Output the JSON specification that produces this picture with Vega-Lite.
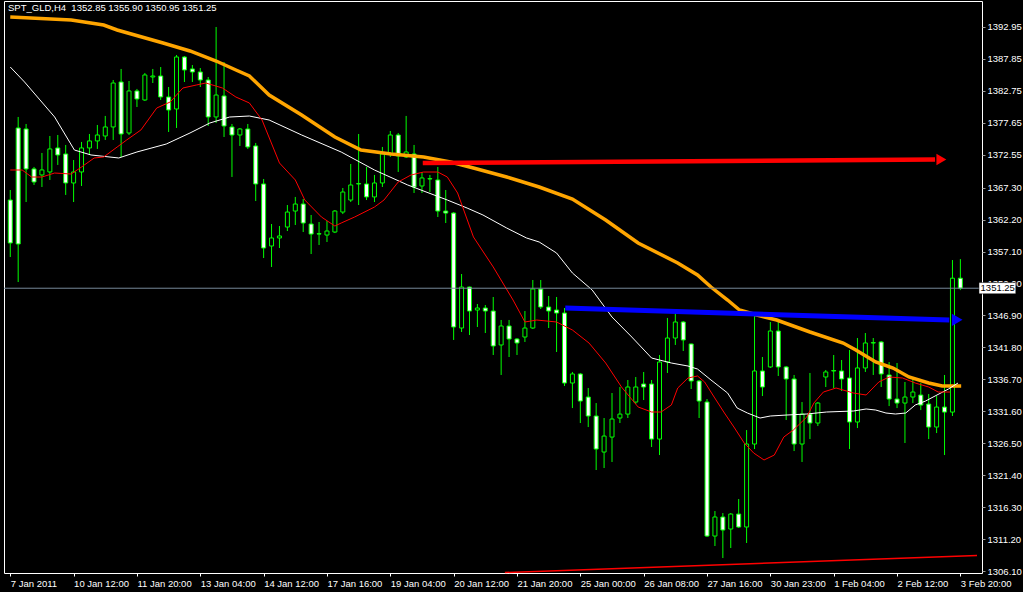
{
  "$schema": "https://vega.github.io/schema/vega-lite/v6.json",
  "width": 978,
  "height": 572,
  "autosize": "none",
  "padding": {"left": 4, "top": 1, "right": 41, "bottom": 19},
  "background": "#000000",
  "config": {
    "view": {"stroke": "#ffffff", "strokeWidth": 1, "fill": "#000000"},
    "font": "Liberation Sans"
  },
  "title": {
    "text": "SPT_GLD,H4\u00a0\u00a01352.85 1355.90 1350.95 1351.25",
    "color": "#ffffff",
    "font": "Liberation Sans",
    "fontSize": 9.5,
    "fontWeight": "normal",
    "anchor": "start",
    "frame": "group",
    "baseline": "top",
    "offset": 0,
    "dx": 4,
    "dy": 11
  },
  "datasets": {
    "candles": [
      {"k":0,"o":1365.33,"h":1366.93,"l":1356.23,"c":1358.47},
      {"k":1,"o":1376.83,"h":1378.59,"l":1352.24,"c":1358.31},
      {"k":2,"o":1376.67,"h":1377.47,"l":1365.01,"c":1370.29},
      {"k":3,"o":1370.29,"h":1370.61,"l":1367.73,"c":1368.21},
      {"k":4,"o":1369.33,"h":1372.84,"l":1367.41,"c":1370.13},
      {"k":5,"o":1369.81,"h":1375.55,"l":1368.53,"c":1373.48},
      {"k":6,"o":1373.64,"h":1375.71,"l":1370.93,"c":1372.52},
      {"k":7,"o":1372.68,"h":1374.12,"l":1366.14,"c":1368.05},
      {"k":8,"o":1368.05,"h":1371.72,"l":1365.01,"c":1369.81},
      {"k":9,"o":1369.81,"h":1374.60,"l":1367.57,"c":1373.64},
      {"k":10,"o":1373.64,"h":1375.87,"l":1372.52,"c":1374.76},
      {"k":11,"o":1374.76,"h":1377.31,"l":1373.48,"c":1375.71},
      {"k":12,"o":1375.55,"h":1378.75,"l":1374.92,"c":1376.99},
      {"k":13,"o":1376.99,"h":1384.49,"l":1374.92,"c":1384.01},
      {"k":14,"o":1384.17,"h":1386.25,"l":1372.20,"c":1375.87},
      {"k":15,"o":1376.03,"h":1384.33,"l":1375.71,"c":1382.74},
      {"k":16,"o":1382.74,"h":1383.06,"l":1380.18,"c":1381.46},
      {"k":17,"o":1381.30,"h":1385.61,"l":1381.14,"c":1385.29},
      {"k":18,"o":1384.97,"h":1386.25,"l":1384.01,"c":1385.13},
      {"k":19,"o":1385.13,"h":1386.56,"l":1381.30,"c":1381.78},
      {"k":20,"o":1381.78,"h":1383.37,"l":1376.19,"c":1379.70},
      {"k":21,"o":1379.86,"h":1388.48,"l":1376.83,"c":1388.16},
      {"k":22,"o":1388.16,"h":1388.32,"l":1384.17,"c":1386.09},
      {"k":23,"o":1386.25,"h":1386.88,"l":1384.17,"c":1385.77},
      {"k":24,"o":1385.77,"h":1386.40,"l":1383.37,"c":1384.49},
      {"k":25,"o":1384.49,"h":1384.97,"l":1377.15,"c":1378.59},
      {"k":26,"o":1378.59,"h":1392.95,"l":1377.63,"c":1382.09},
      {"k":27,"o":1381.94,"h":1387.36,"l":1375.39,"c":1377.15},
      {"k":28,"o":1376.99,"h":1377.47,"l":1369.01,"c":1375.71},
      {"k":29,"o":1375.71,"h":1376.83,"l":1373.96,"c":1376.67},
      {"k":30,"o":1376.67,"h":1377.47,"l":1373.48,"c":1373.80},
      {"k":31,"o":1373.96,"h":1374.44,"l":1365.17,"c":1367.89},
      {"k":32,"o":1367.89,"h":1368.69,"l":1356.07,"c":1357.67},
      {"k":33,"o":1357.99,"h":1361.50,"l":1354.64,"c":1359.27},
      {"k":34,"o":1359.27,"h":1361.18,"l":1357.67,"c":1359.59},
      {"k":35,"o":1361.02,"h":1364.53,"l":1360.38,"c":1363.41},
      {"k":36,"o":1363.57,"h":1365.82,"l":1361.34,"c":1364.69},
      {"k":37,"o":1364.69,"h":1365.49,"l":1360.22,"c":1361.66},
      {"k":38,"o":1361.50,"h":1362.94,"l":1356.71,"c":1359.90},
      {"k":39,"o":1359.95,"h":1361.82,"l":1358.15,"c":1359.90},
      {"k":40,"o":1359.74,"h":1361.98,"l":1358.63,"c":1360.38},
      {"k":41,"o":1360.22,"h":1363.73,"l":1360.06,"c":1363.57},
      {"k":42,"o":1363.41,"h":1367.25,"l":1363.09,"c":1366.61},
      {"k":43,"o":1365.33,"h":1371.08,"l":1365.01,"c":1367.73},
      {"k":44,"o":1367.95,"h":1375.87,"l":1364.53,"c":1367.89},
      {"k":45,"o":1367.89,"h":1370.61,"l":1365.33,"c":1365.82},
      {"k":46,"o":1365.82,"h":1369.33,"l":1365.01,"c":1368.05},
      {"k":47,"o":1368.05,"h":1373.80,"l":1367.41,"c":1372.68},
      {"k":48,"o":1372.68,"h":1376.35,"l":1372.20,"c":1375.71},
      {"k":49,"o":1375.71,"h":1376.03,"l":1369.81,"c":1372.36},
      {"k":50,"o":1372.20,"h":1378.75,"l":1372.04,"c":1373.00},
      {"k":51,"o":1372.68,"h":1374.12,"l":1366.45,"c":1367.41},
      {"k":52,"o":1367.57,"h":1369.81,"l":1366.45,"c":1368.85},
      {"k":53,"o":1368.74,"h":1369.33,"l":1366.61,"c":1368.69},
      {"k":54,"o":1368.53,"h":1370.61,"l":1362.62,"c":1363.57},
      {"k":55,"o":1363.57,"h":1366.93,"l":1361.66,"c":1363.25},
      {"k":56,"o":1363.25,"h":1363.41,"l":1342.99,"c":1345.06},
      {"k":57,"o":1344.90,"h":1353.52,"l":1344.26,"c":1351.44},
      {"k":58,"o":1351.44,"h":1351.50,"l":1343.78,"c":1347.61},
      {"k":59,"o":1347.77,"h":1348.73,"l":1345.06,"c":1348.09},
      {"k":60,"o":1348.09,"h":1348.57,"l":1344.10,"c":1347.61},
      {"k":61,"o":1347.61,"h":1349.85,"l":1340.59,"c":1342.03},
      {"k":62,"o":1342.19,"h":1346.18,"l":1337.40,"c":1345.22},
      {"k":63,"o":1345.22,"h":1346.18,"l":1340.27,"c":1343.14},
      {"k":64,"o":1343.14,"h":1343.30,"l":1340.59,"c":1342.51},
      {"k":65,"o":1343.46,"h":1347.61,"l":1342.67,"c":1344.90},
      {"k":66,"o":1344.90,"h":1352.56,"l":1344.74,"c":1351.12},
      {"k":67,"o":1351.12,"h":1352.56,"l":1347.93,"c":1348.25},
      {"k":68,"o":1348.25,"h":1350.01,"l":1344.90,"c":1347.61},
      {"k":69,"o":1347.77,"h":1349.85,"l":1341.07,"c":1347.29},
      {"k":70,"o":1347.29,"h":1348.09,"l":1335.64,"c":1336.12},
      {"k":71,"o":1336.12,"h":1337.88,"l":1332.12,"c":1337.56},
      {"k":72,"o":1337.56,"h":1337.72,"l":1329.73,"c":1333.24},
      {"k":73,"o":1333.88,"h":1335.32,"l":1329.09,"c":1330.85},
      {"k":74,"o":1330.85,"h":1332.92,"l":1322.23,"c":1325.58},
      {"k":75,"o":1325.10,"h":1330.53,"l":1322.55,"c":1327.65},
      {"k":76,"o":1327.49,"h":1334.52,"l":1323.51,"c":1330.37},
      {"k":77,"o":1330.53,"h":1335.48,"l":1329.73,"c":1331.16},
      {"k":78,"o":1331.16,"h":1336.60,"l":1330.53,"c":1335.48},
      {"k":79,"o":1333.08,"h":1337.08,"l":1332.76,"c":1335.48},
      {"k":80,"o":1335.96,"h":1337.88,"l":1333.40,"c":1335.48},
      {"k":81,"o":1335.96,"h":1336.60,"l":1325.90,"c":1327.17},
      {"k":82,"o":1327.17,"h":1340.59,"l":1324.62,"c":1339.47},
      {"k":83,"o":1339.47,"h":1346.50,"l":1337.72,"c":1343.30},
      {"k":84,"o":1343.30,"h":1347.29,"l":1342.19,"c":1345.86},
      {"k":85,"o":1345.86,"h":1346.02,"l":1341.23,"c":1342.99},
      {"k":86,"o":1342.35,"h":1342.40,"l":1335.16,"c":1336.44},
      {"k":87,"o":1336.44,"h":1336.60,"l":1330.53,"c":1333.24},
      {"k":88,"o":1333.08,"h":1333.56,"l":1311.53,"c":1311.69},
      {"k":89,"o":1311.69,"h":1315.68,"l":1310.10,"c":1314.73},
      {"k":90,"o":1314.73,"h":1315.36,"l":1308.18,"c":1312.65},
      {"k":91,"o":1312.81,"h":1315.36,"l":1309.78,"c":1315.20},
      {"k":92,"o":1315.20,"h":1317.60,"l":1312.97,"c":1313.13},
      {"k":93,"o":1313.13,"h":1328.61,"l":1310.58,"c":1326.38},
      {"k":94,"o":1326.38,"h":1346.97,"l":1325.58,"c":1338.04},
      {"k":95,"o":1338.04,"h":1340.27,"l":1334.04,"c":1335.48},
      {"k":96,"o":1338.68,"h":1345.86,"l":1338.52,"c":1344.42},
      {"k":97,"o":1344.42,"h":1345.86,"l":1337.24,"c":1338.68},
      {"k":98,"o":1338.68,"h":1338.84,"l":1330.21,"c":1336.76},
      {"k":99,"o":1336.76,"h":1337.40,"l":1325.26,"c":1326.38},
      {"k":100,"o":1326.38,"h":1333.08,"l":1323.51,"c":1331.16},
      {"k":101,"o":1331.16,"h":1337.72,"l":1327.17,"c":1329.73},
      {"k":102,"o":1329.73,"h":1333.08,"l":1329.25,"c":1332.92},
      {"k":103,"o":1337.08,"h":1338.20,"l":1335.48,"c":1337.88},
      {"k":104,"o":1338.10,"h":1340.59,"l":1335.32,"c":1338.04},
      {"k":105,"o":1338.04,"h":1339.79,"l":1334.84,"c":1336.76},
      {"k":106,"o":1336.92,"h":1341.39,"l":1325.58,"c":1329.89},
      {"k":107,"o":1329.89,"h":1343.30,"l":1328.93,"c":1338.52},
      {"k":108,"o":1338.52,"h":1344.10,"l":1337.88,"c":1342.51},
      {"k":109,"o":1342.56,"h":1343.30,"l":1337.40,"c":1342.51},
      {"k":110,"o":1342.67,"h":1342.83,"l":1335.48,"c":1337.56},
      {"k":111,"o":1337.40,"h":1339.47,"l":1332.44,"c":1333.56},
      {"k":112,"o":1333.56,"h":1339.31,"l":1332.12,"c":1332.92},
      {"k":113,"o":1332.92,"h":1336.28,"l":1326.54,"c":1333.88},
      {"k":114,"o":1333.88,"h":1336.92,"l":1332.92,"c":1334.68},
      {"k":115,"o":1334.20,"h":1336.12,"l":1331.80,"c":1332.60},
      {"k":116,"o":1332.76,"h":1334.36,"l":1327.17,"c":1329.09},
      {"k":117,"o":1329.09,"h":1334.04,"l":1328.13,"c":1332.28},
      {"k":118,"o":1332.28,"h":1337.40,"l":1324.62,"c":1331.48},
      {"k":119,"o":1331.48,"h":1355.75,"l":1330.85,"c":1352.85},
      {"k":120,"o":1352.85,"h":1355.90,"l":1350.95,"c":1351.25}
    ],
    "ma_slow": [
      {"k":0,"p":1394.55},{"k":7.7,"p":1394.07},{"k":11.8,"p":1393.27},{"k":13.5,"p":1392.47},
      {"k":19.3,"p":1390.40},{"k":22.7,"p":1389.12},{"k":26.0,"p":1387.52},{"k":28.5,"p":1386.09},
      {"k":30.2,"p":1385.13},{"k":32.7,"p":1382.09},{"k":36.8,"p":1378.90},{"k":41.0,"p":1375.39},
      {"k":44.3,"p":1373.31},{"k":48.1,"p":1372.68},{"k":52.2,"p":1372.20},{"k":55.6,"p":1371.40},
      {"k":58.5,"p":1370.44},{"k":62.7,"p":1369.00},{"k":66.8,"p":1367.41},{"k":71.0,"p":1365.49},
      {"k":75.2,"p":1362.14},{"k":79.3,"p":1358.47},{"k":84.3,"p":1355.28},{"k":86.8,"p":1353.36},
      {"k":88.5,"p":1351.44},{"k":90.6,"p":1349.37},{"k":92.1,"p":1347.77},{"k":94.3,"p":1346.97},
      {"k":96.8,"p":1346.17},{"k":101.0,"p":1344.26},{"k":105.2,"p":1342.50},{"k":106.8,"p":1341.39},
      {"k":109.3,"p":1339.47},{"k":111.5,"p":1338.51},{"k":113.5,"p":1337.08},{"k":116.0,"p":1336.12},
      {"k":117.7,"p":1335.64},{"k":120.1,"p":1335.64}
    ],
    "ma_mid": [
      {"k":0,"p":1386.56},{"k":1.8,"p":1384.17},{"k":5.6,"p":1378.59},{"k":8.1,"p":1373.31},
      {"k":10.2,"p":1372.52},{"k":13.7,"p":1372.04},{"k":16.0,"p":1373.00},{"k":19.7,"p":1374.27},
      {"k":22.7,"p":1376.03},{"k":25.2,"p":1377.62},{"k":27.7,"p":1378.58},{"k":30.2,"p":1378.74},
      {"k":32.7,"p":1378.10},{"k":36.8,"p":1375.71},{"k":41.8,"p":1372.99},{"k":46.0,"p":1370.12},
      {"k":50.2,"p":1367.73},{"k":55.2,"p":1365.33},{"k":57.7,"p":1364.05},{"k":59.7,"p":1362.94},
      {"k":62.7,"p":1360.86},{"k":65.2,"p":1359.27},{"k":66.8,"p":1358.63},{"k":69.0,"p":1356.87},
      {"k":71.0,"p":1353.68},{"k":73.5,"p":1350.96},{"k":76.0,"p":1346.65},{"k":78.5,"p":1343.46},
      {"k":81.0,"p":1340.11},{"k":83.5,"p":1339.31},{"k":85.6,"p":1338.83},{"k":86.8,"p":1338.35},
      {"k":88.5,"p":1336.60},{"k":90.6,"p":1334.52},{"k":91.8,"p":1332.13},{"k":93.1,"p":1331.33},
      {"k":94.7,"p":1330.53},{"k":96.0,"p":1330.85},{"k":98.1,"p":1331.01},{"k":100.6,"p":1331.17},
      {"k":103.1,"p":1331.49},{"k":106.5,"p":1331.65},{"k":108.1,"p":1331.97},{"k":109.3,"p":1331.81},
      {"k":110.6,"p":1331.33},{"k":111.8,"p":1331.17},{"k":113.1,"p":1331.33},{"k":114.3,"p":1332.61},
      {"k":115.6,"p":1333.24},{"k":116.8,"p":1334.04},{"k":118.5,"p":1335.16},{"k":119.7,"p":1336.12}
    ],
    "ma_fast": [
      {"k":0,"p":1370.12},{"k":1.5,"p":1370.12},{"k":2.7,"p":1369.00},{"k":4.0,"p":1369.00},
      {"k":5.6,"p":1369.64},{"k":7.7,"p":1369.48},{"k":9.0,"p":1370.60},{"k":10.6,"p":1372.04},
      {"k":11.8,"p":1372.20},{"k":13.5,"p":1373.79},{"k":14.7,"p":1374.91},{"k":16.5,"p":1376.51},
      {"k":18.5,"p":1380.02},{"k":20.2,"p":1380.98},{"k":21.8,"p":1383.21},{"k":23.5,"p":1383.69},
      {"k":24.7,"p":1384.01},{"k":26.8,"p":1383.21},{"k":28.5,"p":1381.77},{"k":30.2,"p":1380.82},
      {"k":31.8,"p":1378.10},{"k":34.0,"p":1371.24},{"k":36.0,"p":1368.53},{"k":37.2,"p":1365.33},
      {"k":39.3,"p":1362.62},{"k":41.0,"p":1361.18},{"k":41.8,"p":1361.66},{"k":43.5,"p":1362.62},
      {"k":46.0,"p":1364.21},{"k":47.2,"p":1365.33},{"k":49.0,"p":1368.21},{"k":50.6,"p":1369.32},
      {"k":52.2,"p":1369.80},{"k":54.0,"p":1369.80},{"k":55.2,"p":1369.00},{"k":56.5,"p":1366.45},
      {"k":58.5,"p":1359.43},{"k":61.0,"p":1354.64},{"k":63.5,"p":1349.37},{"k":65.0,"p":1345.86},
      {"k":66.5,"p":1346.17},{"k":69.0,"p":1345.86},{"k":71.0,"p":1344.58},{"k":73.1,"p":1342.50},
      {"k":75.2,"p":1339.31},{"k":77.2,"p":1335.48},{"k":79.3,"p":1332.29},{"k":81.0,"p":1331.49},
      {"k":82.2,"p":1331.49},{"k":83.5,"p":1332.61},{"k":84.3,"p":1335.32},{"k":85.6,"p":1336.92},
      {"k":86.8,"p":1337.24},{"k":87.7,"p":1336.28},{"k":88.9,"p":1333.88},{"k":90.2,"p":1331.33},
      {"k":91.4,"p":1329.09},{"k":92.7,"p":1326.54},{"k":93.9,"p":1324.94},{"k":95.2,"p":1323.83},
      {"k":96.5,"p":1324.62},{"k":97.7,"p":1327.50},{"k":98.9,"p":1328.61},{"k":100.6,"p":1330.69},
      {"k":101.5,"p":1332.93},{"k":102.7,"p":1334.68},{"k":104.3,"p":1335.32},{"k":106.5,"p":1334.52},
      {"k":108.1,"p":1334.20},{"k":109.7,"p":1336.28},{"k":111.0,"p":1337.08},{"k":112.7,"p":1336.92},
      {"k":114.3,"p":1336.12},{"k":116.0,"p":1335.48},{"k":117.2,"p":1334.68},{"k":118.7,"p":1334.68}
    ],
    "trend_red": [{"k":52.1,"p":1371.24},{"k":116.8,"p":1371.80}],
    "trend_blue": [{"k":70.1,"p":1348.09},{"k":118.6,"p":1346.17}],
    "trend_low": [{"k":62.47,"p":1305.87},{"k":122.1,"p":1308.58}],
    "arrow_red": [{"k":117.6,"p":1371.80}],
    "arrow_blue": [{"k":119.6,"p":1346.20}],
    "bid": [{"price":1351.25,"label":"1351.25"}]
  },
  "layer": [
    {
      "data": {"name": "candles"},
      "mark": {"type": "rule", "color": "#00ff00", "strokeWidth": 1},
      "encoding": {
        "x": {"field": "k", "type": "quantitative", "title": null,
              "scale": {"domain": [-0.16, 122.1], "nice": false, "zero": false},
              "axis": {"orient": "bottom", "values": [0,8,16,24,32,40,48,56,64,72,80,88,96,104,112,120],
                       "tickCount": 60,
                       "labelExpr": "['7 Jan 2011','10 Jan 12:00','11 Jan 20:00','13 Jan 04:00','14 Jan 12:00','17 Jan 16:00','19 Jan 04:00','20 Jan 12:00','21 Jan 20:00','25 Jan 00:00','26 Jan 08:00','27 Jan 16:00','30 Jan 23:00','1 Feb 04:00','2 Feb 12:00','3 Feb 20:00'][round(datum.value/8)]",
                       "labelAlign": "left", "labelBaseline": "top", "labelPadding": 2,
                       "labelColor": "#ffffff", "labelFont": "Liberation Sans", "labelFontSize": 9.5,
                       "labelFlush": false, "labelOverlap": false, "labelBound": false,
                       "tickColor": "#ffffff", "tickSize": 3, "domain": false, "grid": false, "title": null}},
        "y": {"field": "l", "type": "quantitative", "title": null,
              "scale": {"domain": [1305.79, 1397.10], "nice": false, "zero": false},
              "axis": {"orient": "right",
                       "values": [1306.10,1311.20,1316.30,1321.40,1326.50,1331.60,1336.70,1341.80,1346.90,1352.00,1357.10,1362.20,1367.30,1372.55,1377.65,1382.75,1387.85,1392.95],
                       "tickCount": 60,
                       "format": ".2f", "labelColor": "#ffffff", "labelFont": "Liberation Sans", "labelFontSize": 9.5,
                       "labelPadding": 2, "labelOverlap": false, "labelFlush": false, "labelBound": false,
                       "tickColor": "#9a9a9a", "tickSize": 3, "domain": false, "grid": false, "title": null}},
        "y2": {"field": "h"}
      }
    },
    {
      "data": {"name": "candles"},
      "mark": {"type": "bar", "size": 4, "stroke": "#00ff00", "strokeWidth": 1},
      "encoding": {
        "x": {"field": "k", "type": "quantitative", "title": null},
        "y": {"field": "o", "type": "quantitative", "title": null},
        "y2": {"field": "c"},
        "fill": {"condition": {"test": "datum.c < datum.o", "value": "#ffffff"}, "value": "#000000"}
      }
    },
    {
      "data": {"name": "ma_slow"},
      "mark": {"type": "line", "color": "#ffa500", "strokeWidth": 3.5},
      "encoding": {
        "x": {"field": "k", "type": "quantitative", "title": null},
        "y": {"field": "p", "type": "quantitative", "title": null}
      }
    },
    {
      "data": {"name": "ma_mid"},
      "mark": {"type": "line", "color": "#ffffff", "strokeWidth": 1},
      "encoding": {
        "x": {"field": "k", "type": "quantitative", "title": null},
        "y": {"field": "p", "type": "quantitative", "title": null}
      }
    },
    {
      "data": {"name": "ma_fast"},
      "mark": {"type": "line", "color": "#ff0000", "strokeWidth": 1},
      "encoding": {
        "x": {"field": "k", "type": "quantitative", "title": null},
        "y": {"field": "p", "type": "quantitative", "title": null}
      }
    },
    {
      "data": {"name": "bid"},
      "mark": {"type": "rule", "color": "#778899", "strokeWidth": 1},
      "encoding": {"y": {"field": "price", "type": "quantitative", "title": null}}
    },
    {
      "data": {"name": "trend_red"},
      "mark": {"type": "line", "color": "#ff0000", "strokeWidth": 4.5},
      "encoding": {
        "x": {"field": "k", "type": "quantitative", "title": null},
        "y": {"field": "p", "type": "quantitative", "title": null}
      }
    },
    {
      "data": {"name": "trend_blue"},
      "mark": {"type": "line", "color": "#0000ff", "strokeWidth": 5},
      "encoding": {
        "x": {"field": "k", "type": "quantitative", "title": null},
        "y": {"field": "p", "type": "quantitative", "title": null}
      }
    },
    {
      "data": {"name": "trend_low"},
      "mark": {"type": "line", "color": "#ff0000", "strokeWidth": 1.5},
      "encoding": {
        "x": {"field": "k", "type": "quantitative", "title": null},
        "y": {"field": "p", "type": "quantitative", "title": null}
      }
    },
    {
      "data": {"name": "arrow_red"},
      "mark": {"type": "point", "shape": "triangle-right", "filled": true, "color": "#ff0000", "size": 130, "opacity": 1},
      "encoding": {
        "x": {"field": "k", "type": "quantitative", "title": null},
        "y": {"field": "p", "type": "quantitative", "title": null}
      }
    },
    {
      "data": {"name": "arrow_blue"},
      "mark": {"type": "point", "shape": "triangle-right", "filled": true, "color": "#0000ff", "size": 150, "opacity": 1},
      "encoding": {
        "x": {"field": "k", "type": "quantitative", "title": null},
        "y": {"field": "p", "type": "quantitative", "title": null}
      }
    },
    {
      "data": {"name": "bid"},
      "mark": {"type": "rect", "fill": "#ffffff", "stroke": "#000000", "strokeWidth": 0.5},
      "encoding": {
        "x": {"datum": 122.35, "type": "quantitative"},
        "x2": {"datum": 127.0},
        "y": {"datum": 1352.15, "type": "quantitative"},
        "y2": {"datum": 1350.35}
      }
    },
    {
      "data": {"name": "bid"},
      "mark": {"type": "text", "color": "#000000", "font": "Liberation Sans", "fontSize": 9.5, "align": "left", "baseline": "middle"},
      "encoding": {
        "x": {"datum": 122.55, "type": "quantitative"},
        "y": {"field": "price", "type": "quantitative", "title": null},
        "text": {"field": "label"}
      }
    }
  ]
}
